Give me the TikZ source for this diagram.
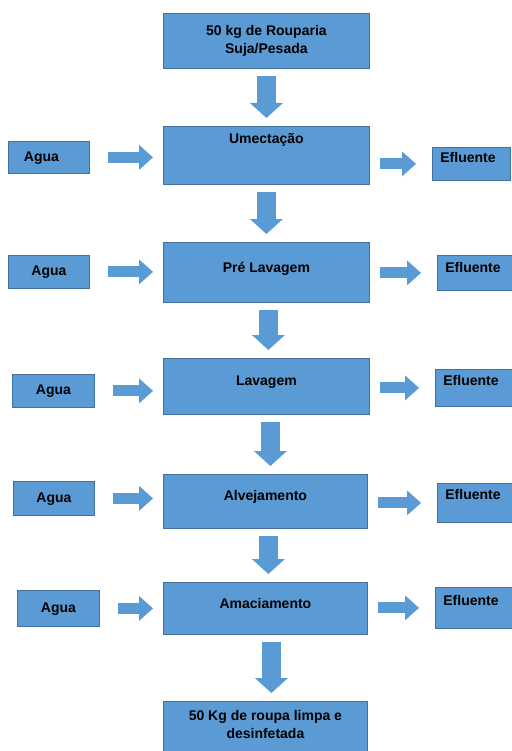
\documentclass[tikz,border=0pt]{standalone}
\usepackage{fontspec}
\setmainfont{Liberation Sans}
\usetikzlibrary{arrows.meta}

\definecolor{boxblue}{HTML}{5B9BD5}
\definecolor{edgeblue}{HTML}{41719C}

\begin{document}
\begin{tikzpicture}[x=1pt, y=-1pt,
  box/.style={draw=edgeblue, fill=boxblue, line width=0.8pt, inner sep=0pt, anchor=north west,
    font=\fontsize{14}{18}\selectfont\bfseries},
  stage/.style={box, minimum width=206pt, align=center},
  agua/.style={box, minimum width=81pt},
  efl/.style={box, text width=64pt, inner xsep=8pt, align=left},
  downarrow/.style={draw=boxblue, line width=19pt, -{Triangle[width=33pt, length=15pt, line width=0pt]}, shorten <=7pt, shorten >=8pt},
  inarrow/.style={draw=boxblue, line width=11pt, -{Triangle[width=25pt, length=14pt, line width=0pt]}, shorten <=18pt, shorten >=10pt},
  outarrow/.style={inarrow, shorten <=10pt, shorten >=16pt}]

\useasboundingbox (0,0) rectangle (511,751);

\node [stage, minimum height=55pt] (roupa) at (163,13) {50 kg de Rouparia\\Suja/Pesada};
\node [stage, text height=17pt, text depth=41pt] (umect) at (163,126) {Umectação};
\node [stage, text height=30pt, text depth=30pt] (prelav) at (163,242) {Pré Lavagem};
\node [stage, text height=27pt, text depth=29pt] (lav) at (163,358) {Lavagem};
\node [stage, minimum width=204pt, text height=26pt, text depth=28pt] (alv) at (163,474) {Alvejamento};
\node [stage, minimum width=204pt, text height=26pt, text depth=26pt] (amac) at (163,582) {Amaciamento};
\node [stage, minimum width=204pt, text height=37pt, text depth=20pt] (limpa) at (163,701) {50 Kg de roupa limpa e\\desinfetada};

\node [agua, text width=50pt, inner xsep=15pt, align=left, text height=20pt, text depth=12pt] (agua1) at (8,141) {Agua};
\node [agua, text height=20.5pt, text depth=12.5pt] (agua2) at (8,255) {Agua};
\node [agua, minimum width=82pt, text height=20.5pt, text depth=12.5pt] (agua3) at (12,374) {Agua};
\node [agua, text height=21pt, text depth=13pt] (agua4) at (13,481) {Agua};
\node [agua, minimum width=82pt, text height=22pt, text depth=14pt] (agua5) at (17,590) {Agua};

\node [efl, text width=62pt, text height=15pt, text depth=18pt] (eff1) at (432,147) {Efluente};
\node [efl, text height=17pt, text depth=18pt] (eff2) at (437,255) {Efluente};
\node [efl, text height=16pt, text depth=21pt] (eff3) at (435,369) {Efluente};
\node [efl, text height=16pt, text depth=23pt] (eff4) at (437,483) {Efluente};
\node [efl, text height=18pt, text depth=23pt] (eff5) at (435,587) {Efluente};

\draw [downarrow] (roupa.south) -- (umect.north);
\draw [downarrow] (umect.south) -- (prelav.north);
\draw [downarrow] ([xshift=2pt]prelav.south) -- ([xshift=2pt]prelav.south |- lav.north);
\draw [downarrow] ([xshift=4pt]lav.south) -- ([xshift=4pt]lav.south |- alv.north);
\draw [downarrow] ([xshift=3pt]alv.south) -- ([xshift=3pt]alv.south |- amac.north);
\draw [downarrow] ([xshift=6pt]amac.south) -- ([xshift=6pt]amac.south |- limpa.north);

\draw [inarrow] (agua1.east) -- (agua1.east -| umect.west);
\draw [inarrow] (agua2.east) -- (agua2.east -| prelav.west);
\draw [inarrow] (agua3.east) -- (agua3.east -| lav.west);
\draw [inarrow] (agua4.east) -- (agua4.east -| alv.west);
\draw [inarrow] (agua5.east) -- (agua5.east -| amac.west);

\draw [outarrow] (umect.east |- eff1.west) -- (eff1.west);
\draw [outarrow] (prelav.east |- eff2.west) -- (eff2.west);
\draw [outarrow] (lav.east |- eff3.west) -- (eff3.west);
\draw [outarrow] (alv.east |- eff4.west) -- (eff4.west);
\draw [outarrow] (amac.east |- eff5.west) -- (eff5.west);

\end{tikzpicture}
\end{document}
